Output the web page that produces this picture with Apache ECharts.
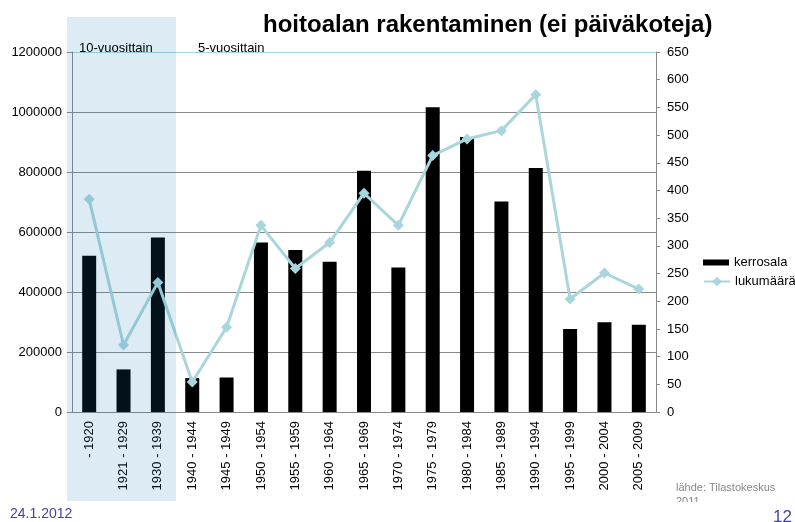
<!DOCTYPE html>
<html>
<head>
<meta charset="utf-8">
<script src="https://cdn.jsdelivr.net/npm/echarts@6/dist/echarts.min.js"></script>
<style>
  html, body { margin: 0; padding: 0; background: #fff; }
  #main { width: 795px; height: 522px; }
</style>
</head>
<body>
<div id="main"></div>
<script>
var categories = ['- 1920', '1921 - 1929', '1930 - 1939', '1940 - 1944', '1945 - 1949',
    '1950 - 1954', '1955 - 1959', '1960 - 1964', '1965 - 1969', '1970 - 1974',
    '1975 - 1979', '1980 - 1984', '1985 - 1989', '1990 - 1994', '1995 - 1999',
    '2000 - 2004', '2005 - 2009'];
// kerrosala (left axis)
var kerrosala = [521000, 142000, 582000, 113000, 115000, 565000, 540000, 501000, 804000,
    482000, 1016000, 917000, 702000, 813000, 277000, 299000, 291000];
// lukumäärä (right axis)
var lukumaara = [384, 121, 234, 54, 153, 337, 259, 306, 395, 337, 463, 493, 508, 573, 204, 251, 222];

var font = 'Liberation Sans, Arial, sans-serif';

var option = {
    animation: false,
    title: {
        text: 'hoitoalan rakentaminen (ei päiväkoteja)',
        left: 263,
        top: 13,
        padding: 0,
        textStyle: {fontSize: 24, fontWeight: 'bold', color: '#000', fontFamily: font}
    },
    legend: [
        {
            data: ['kerrosala'],
            icon: 'rect',
            left: 703, top: 256, padding: 0,
            itemWidth: 26, itemHeight: 6,
            textStyle: {fontSize: 13, color: '#000', fontFamily: font}
        },
        {
            data: ['lukumäärä'],
            left: 703, top: 275, padding: 0,
            itemWidth: 26, itemHeight: 12,
            textStyle: {fontSize: 13, color: '#000', fontFamily: font}
        }
    ],
    grid: {left: 72, right: 139, top: 52, bottom: 110},
    xAxis: {
        type: 'category',
        data: categories,
        axisLine: {lineStyle: {color: '#888'}},
        axisTick: {length: 5, lineStyle: {color: '#888'}},
        axisLabel: {interval: 0, rotate: 90, margin: 9, fontSize: 13, color: '#000', fontFamily: font}
    },
    yAxis: [
        {
            type: 'value',
            min: 0, max: 1200000, interval: 200000,
            axisLine: {show: true, lineStyle: {color: '#888'}},
            axisTick: {show: true, length: 5, lineStyle: {color: '#888'}},
            axisLabel: {
                margin: 10, fontSize: 13, color: '#000', fontFamily: font,
                formatter: function (v) { return String(v); }
            },
            splitLine: {lineStyle: {color: ['#8a8a8a', '#8a8a8a', '#8a8a8a', '#8a8a8a', '#8a8a8a', '#8a8a8a', '#a9d6dc'], width: 1}}
        },
        {
            type: 'value',
            min: 0, max: 650, interval: 50,
            axisLine: {show: true, lineStyle: {color: '#888'}},
            axisTick: {show: true, length: 4, lineStyle: {color: '#888'}},
            axisLabel: {margin: 11, fontSize: 13, color: '#000', fontFamily: font},
            splitLine: {show: false}
        }
    ],
    series: [
        {
            name: 'kerrosala',
            type: 'bar',
            yAxisIndex: 0,
            barWidth: 14,
            itemStyle: {color: '#000'},
            data: kerrosala
        },
        {
            name: 'lukumäärä',
            type: 'line',
            yAxisIndex: 1,
            symbol: 'diamond',
            symbolSize: 11,
            lineStyle: {color: '#a9d6dc', width: 3},
            itemStyle: {color: '#a9d6dc'},
            data: lukumaara
        }
    ],
    graphic: [
        // shaded 10-year block (semi-transparent overlay)
        {type: 'rect', silent: true, z: 100, shape: {x: 67, y: 17, width: 109, height: 484},
            style: {fill: 'rgba(21,117,179,0.145)'}},
        {type: 'text', z: 101, left: 79, top: 42,
            style: {text: '10-vuosittain', fontSize: 13, fill: '#000', fontFamily: font}},
        {type: 'text', z: 101, left: 198, top: 42,
            style: {text: '5-vuosittain', fontSize: 13, fill: '#000', fontFamily: font}},
        {type: 'text', z: 101, left: 676, top: 481,
            style: {text: 'lähde: Tilastokeskus\n2011', fontSize: 11, lineHeight: 14, fill: '#888', fontFamily: font}},
        {type: 'rect', silent: true, z: 102, shape: {x: 670, y: 502, width: 90, height: 12},
            style: {fill: '#fff'}},
        {type: 'text', z: 101, left: 10, top: 507,
            style: {text: '24.1.2012', fontSize: 14, fill: '#4343a3', fontFamily: font}},
        {type: 'text', z: 101, left: 773, top: 509,
            style: {text: '12', fontSize: 17, fill: '#4343a3', fontFamily: font}}
    ]
};

var myChart = echarts.init(document.getElementById('main'));
myChart.setOption(option);
</script>
</body>
</html>
